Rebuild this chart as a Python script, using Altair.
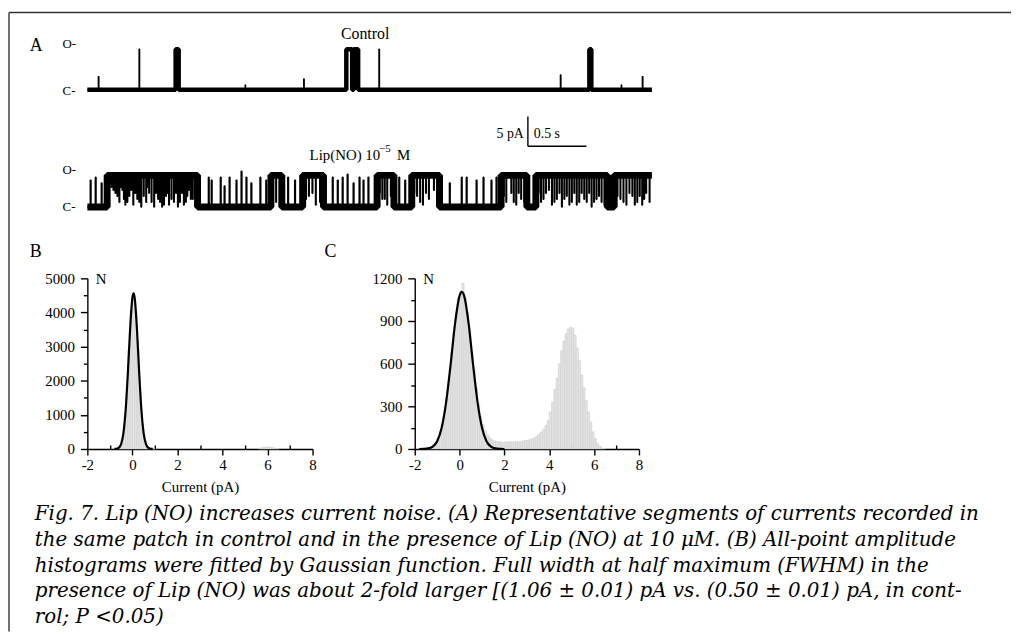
import altair as alt
import pandas as pd

W, H = 1011, 626
SERIF = "Liberation Serif"
CAP_FONT = "DejaVu Serif, Liberation Serif, serif"

# ---------------- Panel A: single-channel current traces ----------------
TRACE_END = 4.822        # s
CONTROL_BASE = 19.7      # pA, vertical offset of the control trace
LIP_OPEN = 5.3           # pA, open level of Lip(NO) trace

control_start = [0.093, 0.441, 0.754, 1.347, 1.847, 2.212, 2.275, 2.490, 4.040, 4.288, 4.560, 4.740]
control_end   = [0.099, 0.447, 0.780, 1.352, 1.853, 2.262, 2.313, 2.496, 4.046, 4.305, 4.565, 4.746]
control_amp   = [2.2, 6.8, 6.8, 0.8, 1.8, 6.8, 6.8, 6.8, 2.5, 6.8, 0.8, 2.2]

lip_spike_t = [0.025, 0.068, 0.119, 1.034, 1.059, 1.136, 1.169, 1.212, 1.271, 1.314, 1.356,
               1.398, 1.475, 1.525, 1.712, 1.771, 2.093, 2.136, 2.178, 2.220, 2.271, 2.322,
               2.356, 2.398, 2.661, 2.712, 3.093, 3.195, 3.237, 3.322, 3.381, 3.449, 3.492]
lip_spike_amp = [4.5, 5.0, 4.0, 5.0, 4.5, 5.0, 3.5, 5.0, 4.5, 6.0, 5.0,
                 4.0, 5.0, 4.5, 5.0, 4.5, 5.0, 4.5, 5.0, 5.5, 4.0, 5.0,
                 4.5, 5.0, 5.0, 4.5, 4.0, 5.0, 5.0, 4.5, 5.0, 4.5, 5.0]
lip_burst_start = [0.169, 1.568, 1.839, 2.475, 2.771, 3.534, 3.831, 4.500]
lip_burst_end   = [0.941, 1.661, 2.017, 2.619, 3.008, 3.754, 4.441, 4.822]
lip_closure_t = [0.186, 0.203, 0.220, 0.237, 0.254, 0.271, 0.284, 0.297, 0.310, 0.322, 0.339,
                 0.356, 0.373, 0.390, 0.407, 0.424, 0.441, 0.458, 0.479, 0.500, 0.512, 0.525,
                 0.546, 0.568, 0.585, 0.602, 0.619, 0.636, 0.652, 0.669, 0.682, 0.695, 0.716,
                 0.737, 0.754, 0.771, 0.788, 0.805, 0.822, 0.839, 0.851, 0.864, 0.881, 0.898,
                 0.920,
                 1.610,
                 1.865, 1.890, 1.920, 1.949, 1.985,
                 2.495, 2.517, 2.538, 2.559, 2.590,
                 2.790, 2.814, 2.840, 2.864, 2.890, 2.915, 2.958, 2.985,
                 3.555, 3.576, 3.619, 3.640, 3.661, 3.682, 3.703, 3.730,
                 3.852, 3.873, 3.894, 3.915, 3.940, 3.966, 3.987, 4.008, 4.030, 4.051, 4.072,
                 4.093, 4.115, 4.136, 4.157, 4.178, 4.199, 4.220, 4.242, 4.263, 4.284, 4.305,
                 4.326, 4.347, 4.368, 4.390, 4.415,
                 4.526, 4.551, 4.577, 4.602, 4.628, 4.653, 4.674, 4.695, 4.716, 4.737, 4.754,
                 4.771, 4.800]
lip_closure_depth = [1.5, 2.0, 2.5, 3.0, 3.5, 4.5, 2.0, 2.5, 4.0, 5.0, 4.5,
                     3.5, 2.5, 5.0, 3.0, 4.0, 4.5, 5.3, 3.5, 4.5, 2.0, 3.0,
                     4.5, 5.3, 3.0, 4.0, 4.5, 5.3, 5.0, 3.5, 3.0, 5.0, 4.0,
                     4.5, 3.0, 5.3, 4.5, 3.0, 5.0, 4.5, 3.5, 2.5, 4.0, 4.0,
                     3.0,
                     4.5,
                     4.0, 3.5, 3.0, 5.0, 4.5,
                     3.0, 4.0, 4.0, 5.0, 3.5,
                     3.0, 3.5, 4.5, 5.0, 3.0, 4.0, 2.5, 4.0,
                     3.5, 4.5, 3.0, 4.5, 5.0, 3.0, 4.0, 4.5,
                     3.0, 4.5, 4.0, 3.0, 2.5, 5.0, 4.5, 4.0, 3.0, 5.3, 4.0,
                     3.5, 5.0, 4.5, 3.0, 5.0, 4.5, 3.0, 4.0, 4.5, 3.0, 5.3,
                     4.5, 4.0, 3.5, 4.5, 5.0,
                     3.5, 4.0, 4.5, 5.0, 3.0, 3.5, 5.0, 4.5, 3.5, 5.0, 4.0,
                     3.0, 4.5]

SCALEBAR_T = 3.763   # s
SCALEBAR_Y = 10.2    # pA

# ---------------- Panel B / C: all-point amplitude histograms ----------------
BIN_W = 0.1
B_centers = [-0.75, -0.65, -0.55, -0.45, -0.35, -0.25, -0.15, -0.05, 0.05, 0.15, 0.25, 0.35,
             0.45, 0.55, 0.65, 0.75, 0.85, 0.95,
             5.65, 5.75, 5.85, 5.95, 6.05, 6.15, 6.25, 6.35, 6.45]
B_counts = [5, 20, 80, 270, 740, 1640, 2890, 4060, 4550, 4060, 2890, 1640,
            740, 270, 80, 25, 10, 5,
            20, 35, 50, 60, 60, 50, 35, 20, 8]
B_fit_x = [-0.8, -0.7, -0.6, -0.5, -0.4, -0.3, -0.2, -0.1, 0.0, 0.05, 0.1, 0.2, 0.3, 0.4,
           0.5, 0.6, 0.7, 0.8, 0.9]
B_fit_y = [1, 8, 38, 147, 458, 1137, 2244, 3534, 4433, 4560, 4433, 3534, 2244, 1137,
           458, 147, 38, 8, 1]

C_centers = [round(-1.75 + 0.1 * k, 2) for k in range(83)]
C_counts = [2, 3, 5, 8, 12, 20, 32, 50, 78, 120, 180, 260, 360, 500, 680, 830, 960, 1060,
            1110, 1165, 1060, 960, 830, 690, 560, 430, 320, 230,
            170, 130, 100, 80, 65, 58, 54, 52, 50, 48,
            50, 47, 52, 50, 48, 53, 50, 55, 58, 62,
            60, 68, 72, 80, 92, 105, 120, 140, 165, 200,
            260, 330, 420, 500, 600, 690, 760, 810, 845, 855,
            850, 800, 710, 620, 520, 430, 340, 260, 190, 120,
            75, 40, 20, 8, 3]
C_fit_x = [-1.8, -1.6, -1.4, -1.2, -1.0, -0.8, -0.6, -0.4, -0.2, 0.0, 0.1, 0.2, 0.4, 0.6,
           0.8, 1.0, 1.2, 1.4, 1.6, 1.8, 2.0]
C_fit_y = [0, 1, 4, 17, 55, 150, 330, 595, 885, 1078, 1105, 1078, 885, 595,
           330, 150, 55, 17, 4, 1, 0]

TICKS_X = [-2, 0, 2, 4, 6, 8]
MINOR_X = [-1, 1, 3, 5, 7]
B_TICKS_Y = [0, 1000, 2000, 3000, 4000, 5000]
B_MINOR_Y = [500, 1500, 2500, 3500, 4500]
C_TICKS_Y = [0, 300, 600, 900, 1200]
C_MINOR_Y = [150, 450, 750, 1050]

CAPTION = [
    "Fig. 7. Lip (NO) increases current noise. (A) Representative segments of currents recorded in",
    "the same patch in control and in the presence of Lip (NO) at 10 \u03bcM. (B) All-point amplitude",
    "histograms were fitted by Gaussian function. Full width at half maximum (FWHM) in the",
    "presence of Lip (NO) was about 2-fold larger [(1.06 \u00b1 0.01) pA vs. (0.50 \u00b1 0.01) pA, in cont-",
    "rol; P <0.05)",
]


# ---------------- helpers ----------------
def trace_path(starts, ends, amps, base, c_t=(), c_d=(), dip=0.005):
    closures = sorted(zip(c_t, c_d))
    pts = [(0.0, base)]
    for t0, t1, a in sorted(zip(starts, ends, amps)):
        top = base + a
        pts += [(t0, base), (t0, top)]
        for tc, d in closures:
            if t0 < tc < t1:
                pts += [(tc, top), (tc, top - d), (tc + dip, top - d), (tc + dip, top)]
        pts.append((t1, top))
        if t1 < TRACE_END:
            pts.append((t1, base))
    if pts[-1][0] < TRACE_END:
        pts.append((TRACE_END, base))
    return pd.DataFrame({"t": [p[0] for p in pts], "y": [p[1] for p in pts],
                         "i": list(range(len(pts)))})


T_SCALE = alt.Scale(domain=[0, TRACE_END], range=[80, 649], nice=False, zero=False)
I_SCALE = alt.Scale(domain=[0, 30], range=[198, 18], nice=False, zero=False)


def trace_layer(df, width):
    return alt.Chart(df).mark_line(color="black", strokeWidth=width, strokeJoin="bevel").encode(
        x=alt.X("t:Q", scale=T_SCALE, axis=None),
        y=alt.Y("y:Q", scale=I_SCALE, axis=None),
        order="i:Q",
    )


one = pd.DataFrame({"k": [0]})


def label(txt, x, y, size=15, font=SERIF, align="left", style="normal"):
    return alt.Chart(one).mark_text(
        text=txt, font=font, fontSize=size, align=align, baseline="alphabetic",
        fontStyle=style, color="black",
    ).encode(x=alt.value(x), y=alt.value(y))


AX = dict(grid=False, domainColor="black", domainWidth=1.4, tickColor="black", tickWidth=1.4,
          labelFont=SERIF, labelFontSize=15, labelColor="black", labelFlush=False,
          labelOverlap=False, titleFont=SERIF, titleFontSize=15, titleFontWeight="normal",
          titleColor="black")


def histogram(centers, counts, fit_x, fit_y, x0, x1, ymax, ticks_y, minor_y):
    xs = alt.Scale(domain=[-2, 8], range=[x0, x1], nice=False, zero=False)
    ys = alt.Scale(domain=[0, ymax], range=[442, 270], nice=False, zero=True)
    df = pd.DataFrame({"lo": [c - BIN_W / 2 for c in centers],
                       "hi": [c + BIN_W / 2 for c in centers], "n": counts})
    fit = pd.DataFrame({"x": fit_x, "n": fit_y})
    bars = alt.Chart(df).mark_bar(fill="#e3e3e3", stroke="#cdcdcd", strokeWidth=0.5).encode(
        x=alt.X("lo:Q", scale=xs, axis=alt.Axis(
            orient="bottom", offset=442 - H, values=TICKS_X, labelExpr="'' + datum.value",
            tickSize=6, labelPadding=3, title="Current (pA)", titlePadding=7, **AX)),
        x2="hi:Q",
        y=alt.Y("n:Q", scale=ys, axis=alt.Axis(
            orient="left", offset=-x0, values=ticks_y, format="d", tickSize=7, labelPadding=6,
            title="N", titleAngle=0, titleX=8, titleY=275, titleAlign="left",
            titleBaseline="alphabetic", **AX)),
        y2=alt.datum(0),
    )
    curve = alt.Chart(fit).mark_line(color="black", strokeWidth=2.2, interpolate="monotone").encode(
        x=alt.X("x:Q", scale=xs, axis=alt.Axis(
            orient="top", offset=-442, values=MINOR_X, labels=False, domain=False,
            tickSize=4, title=None, grid=False, tickColor="black", tickWidth=1.4)),
        y=alt.Y("n:Q", scale=ys, axis=alt.Axis(
            orient="left", offset=-x0, values=minor_y, labels=False, domain=False,
            tickSize=4, title=None, grid=False, tickColor="black", tickWidth=1.4)),
    )
    return [bars, curve]


# ---------------- build ----------------
lip_starts = lip_spike_t + lip_burst_start
lip_ends = [t + 0.006 for t in lip_spike_t] + lip_burst_end
lip_amps = lip_spike_amp + [LIP_OPEN] * len(lip_burst_start)

ctrl_thin = trace_path(control_start, control_end, control_amp, CONTROL_BASE)
long_ctrl = [k for k in range(len(control_start)) if control_end[k] - control_start[k] >= 0.015]
ctrl_thick = trace_path([control_start[k] for k in long_ctrl], [control_end[k] for k in long_ctrl],
                        [control_amp[k] for k in long_ctrl], CONTROL_BASE)
lip_thin = trace_path(lip_starts, lip_ends, lip_amps, 0.0, lip_closure_t, lip_closure_depth)
lip_thick = trace_path(lip_burst_start, lip_burst_end, [LIP_OPEN] * len(lip_burst_start), 0.0)

sb = pd.DataFrame({"t0": [SCALEBAR_T], "t1": [SCALEBAR_T + 0.5],
                   "y0": [SCALEBAR_Y], "y1": [SCALEBAR_Y + 5]})
sb_v = alt.Chart(sb).mark_rule(color="black", strokeWidth=1.4).encode(
    x=alt.X("t0:Q", scale=T_SCALE, axis=None),
    y=alt.Y("y0:Q", scale=I_SCALE, axis=None), y2="y1:Q")
sb_h = alt.Chart(sb).mark_rule(color="black", strokeWidth=1.4).encode(
    x=alt.X("t0:Q", scale=T_SCALE, axis=None), x2="t1:Q",
    y=alt.Y("y0:Q", scale=I_SCALE, axis=None))

border_top = alt.Chart(one).mark_rule(color="#333333", strokeWidth=1.6).encode(
    x=alt.value(1), x2=alt.value(W), y=alt.value(2))
border_left = alt.Chart(one).mark_rule(color="#333333", strokeWidth=1.4).encode(
    x=alt.value(1), y=alt.value(2), y2=alt.value(H))

layers = [border_top, border_left,
          trace_layer(ctrl_thick, 4.5), trace_layer(ctrl_thin, 1.2),
          trace_layer(lip_thick, 7.0), trace_layer(lip_thin, 1.5),
          sb_v, sb_h]
layers += histogram(B_centers, B_counts, B_fit_x, B_fit_y, 80, 307, 5000, B_TICKS_Y, B_MINOR_Y)
layers += histogram(C_centers, C_counts, C_fit_x, C_fit_y, 410, 636, 1200, C_TICKS_Y, C_MINOR_Y)

layers += [
    label("A", 22, 41, size=18),
    label("Control", 360, 29, size=16, align="center"),
    label("O-", 55, 38, size=13), label("C-", 55, 85, size=13),
    label("Lip(NO) 10", 304, 151, size=15),
    label("\u22125", 374, 143, size=11),
    label("M", 392, 151, size=15),
    label("O-", 55, 165, size=13), label("C-", 55, 202, size=13),
    label("5 pA", 520, 129, size=14, align="right"),
    label("0.5 s", 530, 129, size=14),
    label("B", 22, 248, size=18),
    label("C", 319, 248, size=18),
]
for k, line in enumerate(CAPTION):
    layers.append(label(line, 27, 514 + 25.8 * k, size=20, font=CAP_FONT, style="italic"))

chart = alt.layer(*layers).resolve_scale(
    x="independent", y="independent"
).resolve_axis(
    x="independent", y="independent"
).properties(
    width=W, height=H, padding=0, autosize=alt.AutoSizeParams(type="none")
).configure_view(stroke=None)

chart.save("out.html", embed_options={"renderer": "svg", "actions": False})
